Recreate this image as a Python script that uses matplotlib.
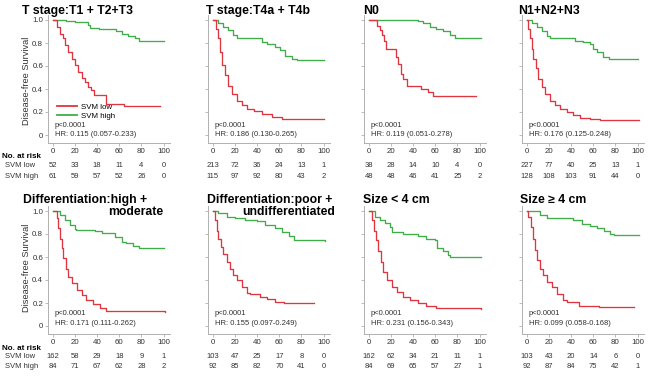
import matplotlib
matplotlib.use('Agg')
import matplotlib.pyplot as plt
from matplotlib.lines import Line2D

plt.rcParams['font.family'] = ['Liberation Sans', 'DejaVu Sans']

RED = '#e0343f'
GREEN = '#3fae48'
TXT = '#333333'
SPINE = '#b0b0b0'

risk_times = [0, 20, 40, 60, 80, 100]

titles = [
    ["T stage:T1 + T2+T3"], ["T stage:T4a + T4b"], ["N0"], ["N1+N2+N3"],
    ["Differentiation:high +", "moderate"], ["Differentiation:poor +", "undifferentiated"],
    ["Size < 4 cm"], ["Size \u2265 4 cm"],
]

hr_texts = [
    "HR: 0.115 (0.057-0.233)", "HR: 0.186 (0.130-0.265)", "HR: 0.119 (0.051-0.278)",
    "HR: 0.176 (0.125-0.248)", "HR: 0.171 (0.111-0.262)", "HR: 0.155 (0.097-0.249)",
    "HR: 0.231 (0.156-0.343)", "HR: 0.099 (0.058-0.168)",
]

# Kaplan-Meier step curves (time, survival)
low_t = [
    [0, 3.3, 6.3, 9.3, 10.8, 13.8, 16.8, 19.8, 22.8, 25.8, 28.8, 31.8, 34.8, 37.2, 48.3, 64, 97],
    [0, 2.4, 4.2, 6.4, 8.5, 10.9, 13.3, 17, 21.5, 26, 30.6, 36.7, 44, 53, 62, 100],
    [0, 6.9, 9.9, 11.4, 13.5, 15.3, 24.3, 26.4, 29.4, 31, 34, 47.4, 53.5, 58, 97],
    [0, 1.2, 2.7, 4.2, 5.8, 8.2, 10.3, 13.3, 16.4, 21, 25.5, 30, 36, 42, 48, 57, 66, 101],
    [0, 3.3, 4.8, 6.3, 7.8, 9.3, 11.4, 13.8, 16.8, 21.3, 25.8, 30.3, 36.3, 42.3, 48.3, 101],
    [0, 1.8, 3.3, 4.8, 7.3, 9.4, 12.4, 15.5, 18.5, 21.5, 26, 30.6, 33.6, 42.7, 48.8, 56, 64, 91],
    [0, 2.4, 4.5, 6.3, 8.4, 10.5, 12.9, 15.9, 20.4, 25, 31, 37, 44.4, 52, 61, 101],
    [0, 1.2, 3.3, 5.2, 7.3, 9.4, 11.8, 14.8, 17.9, 22.4, 27, 33, 36, 46.7, 65, 96.7],
]
low_s = [
    [1, 0.94, 0.88, 0.84, 0.78, 0.72, 0.66, 0.61, 0.55, 0.50, 0.46, 0.42, 0.39, 0.345, 0.27, 0.25, 0.25],
    [1, 0.925, 0.84, 0.72, 0.61, 0.52, 0.43, 0.36, 0.30, 0.26, 0.23, 0.21, 0.185, 0.16, 0.14, 0.14],
    [1, 0.95, 0.91, 0.87, 0.82, 0.75, 0.68, 0.62, 0.53, 0.49, 0.43, 0.40, 0.37, 0.34, 0.34],
    [1, 0.925, 0.84, 0.75, 0.66, 0.58, 0.49, 0.42, 0.36, 0.30, 0.26, 0.23, 0.20, 0.17, 0.15, 0.136, 0.128, 0.128],
    [1, 0.94, 0.85, 0.76, 0.675, 0.59, 0.50, 0.43, 0.37, 0.31, 0.27, 0.226, 0.19, 0.16, 0.13, 0.125],
    [1, 0.92, 0.83, 0.76, 0.69, 0.63, 0.56, 0.50, 0.44, 0.40, 0.34, 0.29, 0.275, 0.255, 0.235, 0.21, 0.197, 0.197],
    [1, 0.92, 0.83, 0.75, 0.65, 0.56, 0.47, 0.40, 0.34, 0.30, 0.255, 0.226, 0.20, 0.174, 0.154, 0.148],
    [1, 0.95, 0.86, 0.76, 0.66, 0.57, 0.50, 0.44, 0.38, 0.34, 0.28, 0.226, 0.212, 0.174, 0.162, 0.162],
]
high_t = [
    [0, 12, 20, 32, 33.3, 42, 57, 62, 68, 74, 78, 100],
    [0, 4.8, 9.4, 14, 18.5, 21.5, 44, 49, 56, 61, 65.5, 71.5, 76, 100],
    [0, 44.4, 49, 55, 61, 67, 73, 77.5, 101],
    [0, 4.2, 8.8, 13.3, 18, 21, 43.6, 51, 57, 60, 63, 69, 74, 100],
    [0, 6.3, 10.8, 15.3, 19.8, 21, 37.8, 44, 56, 62, 66, 72, 78, 100],
    [0, 4.8, 12.4, 20, 29, 39.7, 47, 56, 62, 68.5, 73, 101],
    [0, 5.4, 10, 14.4, 19, 20.4, 31, 44.4, 52, 59.5, 61.5, 67, 71.5, 73, 101],
    [0, 11.8, 18, 42, 49.7, 57, 63, 69.4, 75.5, 78.5, 101],
]
high_s = [
    [1, 0.99, 0.98, 0.955, 0.93, 0.925, 0.90, 0.88, 0.86, 0.84, 0.82, 0.82],
    [1, 0.97, 0.94, 0.91, 0.87, 0.84, 0.81, 0.79, 0.765, 0.735, 0.69, 0.66, 0.65, 0.65],
    [1, 0.99, 0.97, 0.94, 0.92, 0.90, 0.87, 0.84, 0.84],
    [1, 0.97, 0.94, 0.90, 0.86, 0.84, 0.82, 0.81, 0.79, 0.75, 0.72, 0.68, 0.66, 0.66],
    [1, 0.965, 0.92, 0.88, 0.84, 0.835, 0.826, 0.806, 0.777, 0.733, 0.72, 0.70, 0.675, 0.675],
    [1, 0.98, 0.95, 0.94, 0.925, 0.91, 0.88, 0.85, 0.82, 0.78, 0.75, 0.74],
    [1, 0.95, 0.92, 0.90, 0.86, 0.82, 0.80, 0.78, 0.76, 0.75, 0.675, 0.65, 0.617, 0.60, 0.60],
    [1, 0.965, 0.94, 0.92, 0.89, 0.87, 0.855, 0.83, 0.80, 0.79, 0.79],
]

risk_low = [
    [52, 33, 18, 11, 4, 0], [213, 72, 36, 24, 13, 1], [38, 28, 14, 10, 4, 0], [227, 77, 40, 25, 13, 1],
    [162, 58, 29, 18, 9, 1], [103, 47, 25, 17, 8, 0], [162, 62, 34, 21, 11, 1], [103, 43, 20, 14, 6, 0],
]
risk_high = [
    [61, 59, 57, 52, 26, 0], [115, 97, 92, 80, 43, 2], [48, 48, 46, 41, 25, 2], [128, 108, 103, 91, 44, 0],
    [84, 71, 67, 62, 28, 2], [92, 85, 82, 70, 41, 0], [84, 69, 65, 57, 27, 1], [92, 87, 84, 75, 42, 1],
]

W, H = 650, 378
fig = plt.figure(figsize=(W / 100, H / 100), dpi=100)

col_x0 = [53, 213, 369, 527]      # pixel of t=0
row_y0 = [135, 326]               # pixel of S=0
ppu = 115
k = 1.105                          # px per time unit
XL = (-4.5, 106)
YL = (-0.07, 1.04)

# title placements (x_left px, y_center px) per line
title_pos = [
    [(22, 11)], [(206, 11)], [(363, 11)], [(518, 11)],
    [(23, 200), (108, 212)], [(207, 200), (242, 212)],
    [(363, 200)], [(520, 200)],
]

def fy(py):
    return 1 - py / H

def fx(px):
    return px / W

for i in range(8):
    r, c = divmod(i, 4)
    x0 = col_x0[c]
    y0 = row_y0[r]
    left = x0 + XL[0] * k
    width = (XL[1] - XL[0]) * k
    bottom = y0 - YL[0] * ppu
    top = y0 - YL[1] * ppu
    ax = fig.add_axes([fx(left), fy(bottom), width / W, (bottom - top) / H])
    ax.set_xlim(*XL)
    ax.set_ylim(*YL)
    ax.step(high_t[i], high_s[i], where='post', color=GREEN, lw=0.95)
    ax.step(low_t[i], low_s[i], where='post', color=RED, lw=0.95)
    for s in ['top', 'right']:
        ax.spines[s].set_visible(False)
    for s in ['left', 'bottom']:
        ax.spines[s].set_color(SPINE)
        ax.spines[s].set_linewidth(0.7)
    ax.set_xticks(risk_times)
    ax.set_yticks([0, 0.2, 0.4, 0.6, 0.8, 1.0])
    ax.tick_params(axis='both', length=2, width=0.6, color=SPINE, labelsize=5.7,
                   labelcolor=TXT, pad=1.5)
    if c == 0:
        ax.set_yticklabels(['0', '0.2', '0.4', '0.6', '0.8', '1.0'])
        ax.set_ylabel('Disease-free Survival', fontsize=6.7, color=TXT)
        ax.yaxis.set_label_coords(-0.143, 0.49 if r == 0 else 0.52)
    else:
        ax.set_yticklabels([])
    ax.text(1.5, 0.08 if r == 0 else 0.11, 'p<0.0001', fontsize=5.5, color=TXT,
            ha='left', va='center')
    ax.text(1.5, 0.0 if r == 0 else 0.02, hr_texts[i], fontsize=5.5, color=TXT,
            ha='left', va='center')
    if i == 0:
        handles = [Line2D([], [], color=RED, lw=1.3), Line2D([], [], color=GREEN, lw=1.3)]
        ax.legend(handles, ['SVM low', 'SVM high'], frameon=False, fontsize=5.7,
                  loc='center left', bbox_to_anchor=(0.075, 0.247), handlelength=2.5,
                  handletextpad=0.5, labelspacing=0.15, borderpad=0, borderaxespad=0)
    for j, (tx, ty) in enumerate(title_pos[i]):
        fig.text(fx(tx), fy(ty), titles[i][j], fontsize=8.8, fontweight='bold',
                 ha='left', va='center', color='black')
    # risk table
    ylow = 166 if r == 0 else 357
    yhigh = 176 if r == 0 else 367
    for t, nl, nh in zip(risk_times, risk_low[i], risk_high[i]):
        px = x0 + t * k
        fig.text(fx(px), fy(ylow), str(nl), fontsize=5.5, color=TXT, ha='center', va='center')
        fig.text(fx(px), fy(yhigh), str(nh), fontsize=5.5, color=TXT, ha='center', va='center')
    if c == 0:
        fig.text(fx(2), fy(157 if r == 0 else 348), 'No. at risk', fontsize=5.8,
                 fontweight='bold', ha='left', va='center', color='black')
        fig.text(fx(5), fy(ylow), 'SVM low', fontsize=5.5, ha='left', va='center', color=TXT)
        fig.text(fx(5), fy(yhigh), 'SVM high', fontsize=5.5, ha='left', va='center', color=TXT)

fig.savefig('out.png', dpi=100)
